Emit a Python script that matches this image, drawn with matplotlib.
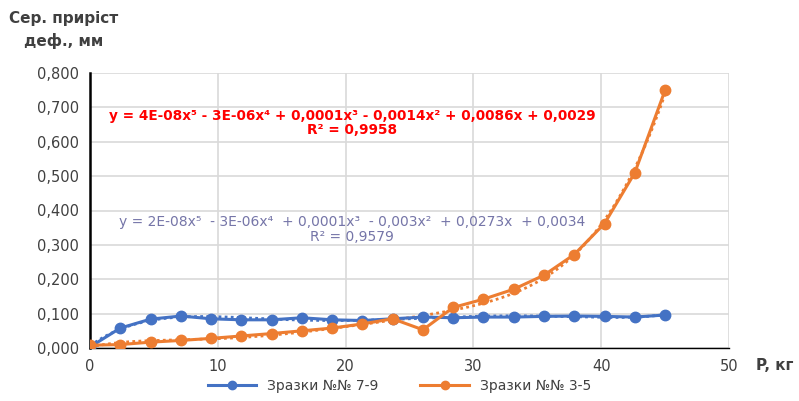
import numpy as np
import matplotlib
matplotlib.use("Agg")
import matplotlib.pyplot as plt
from matplotlib.ticker import FuncFormatter

x_vals = [0, 2.37, 4.74, 7.11, 9.47, 11.84, 14.21, 16.58, 18.95, 21.32,
          23.68, 26.05, 28.42, 30.79, 33.16, 35.53, 37.89, 40.26, 42.63, 45.0]
blue_vals = [0.003, 0.058, 0.084, 0.093, 0.085, 0.082, 0.082, 0.088, 0.082, 0.080,
             0.085, 0.090, 0.088, 0.090, 0.090, 0.092, 0.093, 0.092, 0.090, 0.096]
orange_vals = [0.008, 0.010, 0.017, 0.022, 0.028, 0.035, 0.042, 0.050, 0.058, 0.070,
               0.085, 0.053, 0.118, 0.142, 0.171, 0.212, 0.272, 0.362, 0.510, 0.750]
series_names = ["Зразки №№ 7-9", "Зразки №№ 3-5"]
eq_blue = "y = 2E-08x⁵  - 3E-06x⁴  + 0,0001x³  - 0,003x²  + 0,0273x  + 0,0034\nR² = 0,9579"
eq_orange = "y = 4E-08x⁵ - 3E-06x⁴ + 0,0001x³ - 0,0014x² + 0,0086x + 0,0029\nR² = 0,9958"

plt.rcParams['font.family'] = ['DejaVu Sans']
fig = plt.figure(figsize=(7.99, 4.01), dpi=100)
ax = fig.add_axes([90/799, 53/401, 639/799, 275/401])

blue = "#4472C4"
orange = "#ED7D31"
x = np.array(x_vals)
xs = np.linspace(0, 45, 300)
for vals, col, name in [(blue_vals, blue, series_names[0]), (orange_vals, orange, series_names[1])]:
    ax.plot(x, vals, color=col, lw=2.2, marker='o', ms=7.5, label=name, zorder=3)
    p = np.polyfit(x, vals, 5)
    ax.plot(xs, np.polyval(p, xs), color=col, lw=2, ls=(0, (1, 1.2)), zorder=2)

ax.set_xlim(0, 50)
ax.set_ylim(0, 0.8)
ax.set_xticks(range(0, 51, 10))
ax.set_yticks(np.arange(0, 0.81, 0.1))
ax.yaxis.set_major_formatter(FuncFormatter(lambda v, p: f"{v:.3f}".replace('.', ',')))
ax.grid(True, color="#d9d9d9", lw=1.2)
ax.set_axisbelow(True)
for s in ['top', 'right']:
    ax.spines[s].set_visible(False)
ax.spines['left'].set_color('black')
ax.spines['left'].set_linewidth(1.8)
ax.spines['bottom'].set_color('black')
ax.spines['bottom'].set_linewidth(1.0)
ax.tick_params(length=0, labelsize=10.5, colors='#404040', pad=8)

ax.text(0.41, 0.818, eq_orange, transform=ax.transAxes, ha='center', va='center',
        color='#FF0000', fontsize=9.8, fontweight='bold', linespacing=1.05)
ax.text(0.41, 0.43, eq_blue, transform=ax.transAxes, ha='center', va='center',
        color='#7575A8', fontsize=10, linespacing=1.05)

fig.text(64/799, 1 - 30/401, "Сер. приріст\nдеф., мм", ha='center', va='center',
         fontsize=11, fontweight='bold', color='#404040', linespacing=1.5)
fig.text(775/799, 1 - 365/401, "P, кг", ha='center', va='center',
         fontsize=11, fontweight='bold', color='#404040')

fig.legend(loc='center', bbox_to_anchor=(0.5, 1 - 386/401), ncol=2, frameon=False,
           fontsize=10, handlelength=3.5, columnspacing=3, labelcolor='#404040',
           markerscale=0.8)

fig.savefig("out.png", dpi=100)
